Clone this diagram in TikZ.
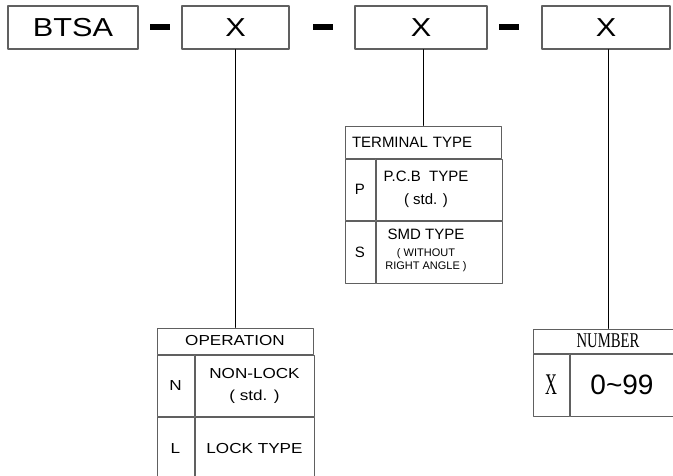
\documentclass[tikz,border=0pt]{standalone}
\usepackage{fontspec}
\setmainfont{Liberation Sans}
\newfontfamily\widesf[FakeStretch=1.18]{Liberation Sans}
\newfontfamily\codeserif{Liberation Serif}
\definecolor{Edge}{RGB}{96,96,96}

\begin{document}
\begin{tikzpicture}[x=1pt,y=-1pt,line cap=round,line join=round,
  topbox/.style={draw=Edge,line width=1.1pt,minimum height=43pt,inner sep=0pt,font=\widesf\fontsize{26}{28}\selectfont},
  bar/.style={fill=black,minimum width=20pt,minimum height=5.5pt,inner sep=0pt},
  cell/.style={draw=Edge,line width=1pt,inner sep=0pt,align=center,anchor=north west},
  optext/.style={font=\widesf\fontsize{14.5}{22}\selectfont},
  termtext/.style={font=\fontsize{15}{23}\selectfont},
  lead/.style={line width=0.8pt}]
\path[use as bounding box] (0,0) rectangle (673,475);
% part number boxes
\node[topbox,minimum width=130pt] (btsa) at (73,27.5) {BTSA};
\node[topbox,minimum width=107pt] (opsel) at (235.5,27.5) {X};
\node[topbox,minimum width=132pt] (termsel) at (421,27.5) {X};
\node[topbox,minimum width=128pt] (numsel) at (606,27.5) {X};
\node[bar] (bar1) at (160,27) {};
\node[bar] (bar2) at (323,27) {};
\node[bar] (bar3) at (508.5,27) {};
% terminal type table
\node[cell,anchor=center,minimum width=156pt,minimum height=32pt,text width=142pt,align=left,termtext] (thead) at (423,142) {TERMINAL TYPE};
\node[cell,minimum width=30pt,minimum height=61pt,termtext] (tp) at (thead.south west) {P};
\node[cell,minimum width=126pt,minimum height=61pt,
  label={[xshift=-13pt,align=center,termtext]center:P.C.B~~TYPE\\( std. )}] (tpdesc) at (tp.north east) {};
\node[cell,minimum width=30pt,minimum height=62pt,termtext] (ts) at (tp.south west) {S};
\node[cell,minimum width=126pt,minimum height=62pt,
  label={[xshift=-13pt,yshift=1.5pt,align=center,font=\fontsize{11}{13}\selectfont]center:{\fontsize{15}{15}\selectfont SMD TYPE}\\[4pt]( WITHOUT\\RIGHT ANGLE )}] (tsdesc) at (ts.north east) {};
% operation table
\node[cell,anchor=center,minimum width=156pt,minimum height=26pt,optext] (ohead) at (235,341) {OPERATION};
\node[cell,minimum width=37pt,minimum height=61pt,optext] (on) at (ohead.south west) {N};
\node[cell,minimum width=119pt,minimum height=61pt,optext] (ondesc) at (on.north east) {NON-LOCK\\( std. )};
\node[cell,minimum width=37pt,minimum height=64pt,optext] (ol) at (on.south west) {L};
\node[cell,minimum width=119pt,minimum height=64pt,optext] (oldesc) at (ol.north east) {LOCK TYPE};
% number table
\node[cell,anchor=center,minimum width=150pt,minimum height=24pt,font=\codeserif\fontsize{21}{22}\selectfont] (nhead) at (608,341) {\scalebox{0.7}[1]{NUMBER}};
\node[cell,minimum width=36pt,minimum height=62pt,font=\codeserif\fontsize{30}{30}\selectfont] (nx) at (nhead.south west) {\scalebox{0.55}[1]{X}};
\node[cell,minimum width=114pt,minimum height=62pt,
  label={[xshift=-5pt,font=\fontsize{28}{30}\selectfont]center:0\textasciitilde 99}] (nval) at (nx.north east) {};
% leads
\draw[lead] (ohead.north) -- (ohead.north |- opsel.south);
\draw[lead] (thead.north) -- (thead.north |- termsel.south);
\draw[lead] (nhead.north) -- (nhead.north |- numsel.south);
\end{tikzpicture}
\end{document}
